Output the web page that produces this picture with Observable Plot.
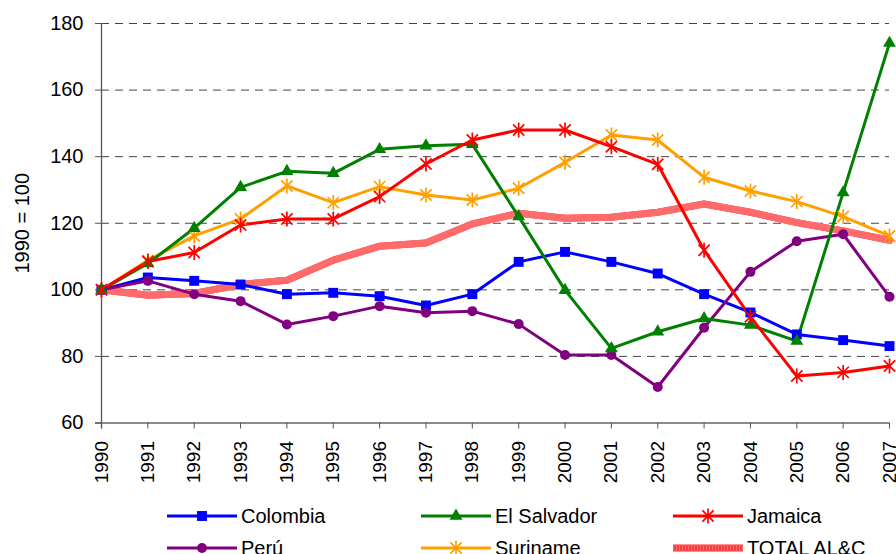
<!DOCTYPE html>
<html>
<head>
<meta charset="utf-8">
<script src="https://cdn.jsdelivr.net/npm/d3@7"></script>
<script src="https://cdn.jsdelivr.net/npm/@observablehq/plot@0.6"></script>
<style>
  html, body { margin: 0; padding: 0; background: #fff; }
  body { width: 896px; height: 554px; overflow: hidden; font-family: "Liberation Sans", Arial, sans-serif; }
  #legend { display: grid; grid-template-columns: 254px 252px 220px; grid-auto-rows: 32px; padding-left: 167px; margin-top: 3px; }
  .item { display: flex; align-items: center; font-size: 20px; color: #000; }
  .item svg { margin-right: 4px; }
</style>
</head>
<body>
<div id="chart"></div>
<div id="legend"></div>
<script>
const years = [1990,1991,1992,1993,1994,1995,1996,1997,1998,1999,2000,2001,2002,2003,2004,2005,2006,2007];
const yTicks = [60,80,100,120,140,160,180];
const names = ["Colombia","El Salvador","Jamaica","Perú","Suriname","TOTAL AL&C"];
const colombia   = [100,103.7,102.7,101.6,98.7,99.1,98.1,95.3,98.7,108.4,111.4,108.4,104.9,98.7,93.2,86.6,84.9,83.1];
const elSalvador = [100,107.9,118.5,130.8,135.6,135.0,142.2,143.3,143.7,122.0,99.9,82.4,87.4,91.4,89.4,84.6,129.2,174.1];
const jamaica    = [100,108.5,111.2,119.5,121.3,121.3,128.0,137.8,145.0,148.0,148.0,143.0,137.7,111.9,91.9,74.1,75.2,77.1];
const peru       = [100,102.7,98.7,96.6,89.6,92.1,95.1,93.1,93.6,89.7,80.4,80.4,70.8,88.6,105.4,114.6,116.7,97.9];
const suriname   = [100,108.8,116.2,121.3,131.2,126.2,131.0,128.5,127.0,130.5,138.3,146.5,145.0,133.8,129.7,126.5,122.0,116.2];
const total      = [100,98.4,98.9,101.6,102.9,108.9,113.1,114.1,119.8,123.0,121.5,121.8,123.3,125.8,123.3,120.2,117.7,114.9];

// Excel-style asterisk: vertical bar plus an X
const excelStar = {
  draw(ctx, size) {
    const r = Math.sqrt(size / Math.PI);
    const k = r * 0.75;
    ctx.moveTo(0, -r); ctx.lineTo(0, r);
    ctx.moveTo(-k, -k); ctx.lineTo(k, k);
    ctx.moveTo(-k, k); ctx.lineTo(k, -k);
  }
};

const series = [
  {name: names[5], values: total,      color: "#ff3a3a", width: 7, symbol: null, hatch: "#ff6b6b"},
  {name: names[0], values: colombia,   color: "#0000ff", width: 3, symbol: "square", r: 5.6},
  {name: names[3], values: peru,       color: "#800080", width: 3, symbol: "circle", r: 5},
  {name: names[4], values: suriname,   color: "#ffa000", width: 3, symbol: excelStar, r: 7.5, stroked: true},
  {name: names[1], values: elSalvador, color: "#008000", width: 3, symbol: "triangle", r: 4.8},
  {name: names[2], values: jamaica,    color: "#ff0000", width: 3, symbol: excelStar, r: 7.5, stroked: true}
];
const rowsOf = s => years.map((y, i) => ({year: y, value: s.values[i], name: s.name}));

const marks = [
  Plot.gridY(yTicks.filter(t => t > 60), {stroke: "#444", strokeOpacity: 1, strokeDasharray: "8,6", strokeWidth: 1}),
  Plot.ruleY([60], {stroke: "#666", strokeWidth: 1.3, insetLeft: -6}),
  Plot.ruleX([1990], {stroke: "#555", strokeWidth: 1.3, insetBottom: -6}),
  Plot.axisY({ticks: yTicks, tickSize: 6, tickPadding: 12, fontSize: 20, stroke: "#555",
              label: "1990 = 100", labelAnchor: "center", labelOffset: 87, labelArrow: "none"}),
  Plot.axisX({ticks: years, tickFormat: d => String(d), tickSize: 6, tickPadding: 12, tickRotate: -90,
              fontSize: 19, stroke: "#555", label: null})
];
for (const s of series) {
  marks.push(Plot.line(rowsOf(s), {x: "year", y: "value", stroke: s.color, strokeWidth: s.width, strokeLinejoin: "miter"}));
  if (s.hatch) marks.push(Plot.line(rowsOf(s), {x: "year", y: "value", stroke: s.hatch, strokeWidth: s.width, strokeDasharray: "1,2"}));
}
for (const s of series) {
  if (!s.symbol) continue;
  marks.push(Plot.dot(rowsOf(s), s.stroked
    ? {x: "year", y: "value", symbol: () => s.symbol, r: s.r, fill: "none", stroke: s.color, strokeWidth: 1.7}
    : {x: "year", y: "value", symbol: () => s.symbol, r: s.r, fill: s.color, stroke: "none"}));
}

const chart = Plot.plot({
  width: 896, height: 497,
  marginLeft: 101, marginRight: 7, marginTop: 23, marginBottom: 74.5,
  style: {fontFamily: "'Liberation Sans', Arial, sans-serif", fontSize: "20px", color: "#000", background: "#fff", overflow: "visible"},
  x: {domain: [1990, 2007]},
  y: {domain: [60, 180]},
  symbol: {type: "identity"},
  marks
});
document.getElementById("chart").appendChild(chart);

// Legend (below the SVG)
const legendOrder = ["Colombia","El Salvador","Jamaica","Perú","Suriname","TOTAL AL&C"];
const legend = document.getElementById("legend");
for (const n of legendOrder) {
  const s = series.find(d => d.name === n);
  const item = document.createElement("div");
  item.className = "item";
  const svg = d3.create("svg").attr("width", 70).attr("height", 20);
  svg.append("line").attr("x1", 0).attr("x2", 70).attr("y1", 10).attr("y2", 10)
     .attr("stroke", s.color).attr("stroke-width", s.width);
  if (s.hatch) {
    svg.append("line").attr("x1", 0).attr("x2", 70).attr("y1", 10).attr("y2", 10)
       .attr("stroke", s.hatch).attr("stroke-width", s.width).attr("stroke-dasharray", "1,2");
  }
  if (s.symbol) {
    const sym = typeof s.symbol === "string"
      ? {square: d3.symbolSquare, circle: d3.symbolCircle, triangle: d3.symbolTriangle}[s.symbol]
      : s.symbol;
    const p = svg.append("path").attr("transform", "translate(35,10)")
      .attr("d", d3.symbol(sym, s.r * s.r * Math.PI)());
    if (s.stroked) p.attr("fill", "none").attr("stroke", s.color).attr("stroke-width", 1.7);
    else p.attr("fill", s.color);
  }
  item.appendChild(svg.node());
  const t = document.createElement("span");
  t.textContent = n;
  item.appendChild(t);
  legend.appendChild(item);
}
</script>
</body>
</html>
